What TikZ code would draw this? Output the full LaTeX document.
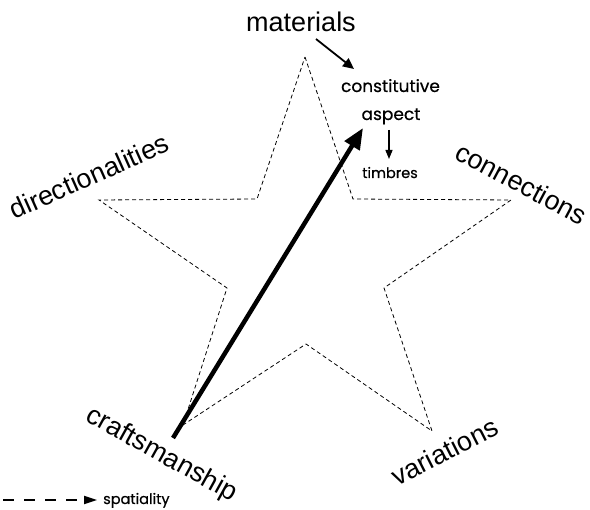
\documentclass[tikz,border=0pt]{standalone}
\usepackage{fontspec}
\setmainfont{Liberation Sans}
\newfontfamily\fut[FakeBold=0.6]{Poppins}
\usetikzlibrary{arrows.meta}
\begin{document}
\begin{tikzpicture}[x=1pt,y=-1pt,
  biglabel/.style={font=\fontsize{27}{30}\selectfont, anchor=base, inner sep=0pt},
  futlabel/.style={font=\fut\fontsize{17}{20}\selectfont, anchor=base, inner sep=0pt},
  smalllabel/.style={font=\fut\fontsize{14.5}{17}\selectfont, anchor=base, inner sep=0pt},
  stardash/.style={line width=0.8pt, dash pattern=on 4pt off 3pt},
  bigarrow/.style={line width=4.5pt, -{Triangle[length=21pt,width=17pt]}},
  midarrow/.style={line width=1.8pt, -{Triangle[length=11pt,width=10pt]}},
  smallarrow/.style={line width=1.3pt, -{Triangle[length=9pt,width=7pt]}},
  legarrow/.style={line width=1.8pt, dash pattern=on 11pt off 10pt, -{Triangle[length=13pt,width=8pt]}}
]
\useasboundingbox (0,0) rectangle (590,510);
% star vertices
\coordinate (t)  at (305,57);
\coordinate (ir1) at (353,199);
\coordinate (r)  at (511,200);
\coordinate (ir2) at (384,288);
\coordinate (br) at (432,431);
\coordinate (ib) at (306,344);
\coordinate (bl) at (183,425);
\coordinate (il2) at (227,288);
\coordinate (l)  at (99,200);
\coordinate (il1) at (257,199);
\draw[stardash] (t) -- (ir1) -- (r) -- (ir2) -- (br) -- (ib) -- (bl) -- (il2) -- (l) -- (il1) -- cycle;

% labels
\node[biglabel] (materials) at (301,32) {materials};
\node[biglabel, rotate=24] (direc) at (93,185) {directionalities};
\node[biglabel, rotate=-28] (conn) at (517,192) {connections};
\node[biglabel, rotate=-29] (craft) at (158,461) {craftsmanship};
\node[biglabel, rotate=27] (vari) at (449,460) {variations};

\node[futlabel] (const) at (390.5,92) {constitutive};
\node[futlabel] (aspect) at (391,120) {aspect};
\node[smalllabel] (timbres) at (390,178) {timbres};
\node[smalllabel, anchor=base west] (spat) at (103,504) {spatiality};

% arrows
\coordinate (craftstart) at (173,438);
\coordinate (aspecttip) at (363,128);
\draw[bigarrow] (craftstart) -- (aspecttip);
\coordinate (matstart) at (316,39);
\coordinate (matend) at (354,69);
\draw[midarrow] (matstart) -- (matend);
\coordinate (aspbot) at (389,130);
\coordinate (timtop) at (389,159);
\draw[smallarrow] (aspbot) -- (timtop);
\coordinate (legstart) at (3,500);
\coordinate (legend) at (97,500);
\draw[legarrow] (legstart) -- (legend);
\end{tikzpicture}
\end{document}
